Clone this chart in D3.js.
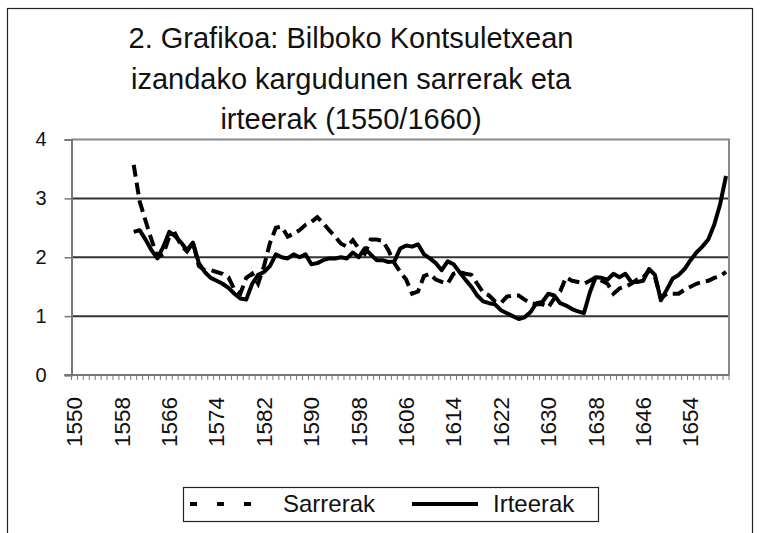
<!DOCTYPE html>
<html>
<head>
<meta charset="utf-8">
<script src="https://cdn.jsdelivr.net/npm/d3@7"></script>
<style>
  body { margin: 0; background: #fff; }
  text { font-family: "Liberation Sans", Arial, sans-serif; fill: #111; }
</style>
</head>
<body>
<svg width="762" height="533"></svg>
<script>
// years on the category axis
var years = d3.range(1550, 1661);
var tickYears = d3.range(1550, 1660, 8);
var yTicks = [0, 1, 2, 3, 4];
var titleLines = ['2. Grafikoa: Bilboko Kontsuletxean', 'izandako kargudunen sarrerak eta', 'irteerak (1550/1660)'];
var seriesNames = ['Sarrerak', 'Irteerak'];

// both series start in 1560
var firstYear = 1560;
var sarrerak = [
  3.57, 2.95, 2.62, 2.30, 2.00, 2.05, 2.35, 2.40, 2.20, 2.10,
  2.25, 1.85, 1.78, 1.78, 1.75, 1.72, 1.66, 1.45, 1.38, 1.65,
  1.72, 1.55, 1.85, 2.24, 2.50, 2.52, 2.35, 2.40, 2.46, 2.55,
  2.60, 2.68, 2.58, 2.46, 2.35, 2.23, 2.18, 2.29, 2.15, 2.06,
  2.30, 2.30, 2.28, 2.12, 1.90, 1.75, 1.62, 1.38, 1.42, 1.68,
  1.72, 1.62, 1.58, 1.55, 1.72, 1.75, 1.72, 1.70, 1.55, 1.40,
  1.35, 1.25, 1.22, 1.33, 1.35, 1.35, 1.28, 1.22, 1.20, 1.20,
  1.15, 1.30, 1.42, 1.66, 1.60, 1.58, 1.55, 1.60, 1.66, 1.60,
  1.55, 1.38, 1.47, 1.50, 1.55, 1.62, 1.65, 1.78, 1.66, 1.30,
  1.38, 1.38, 1.38, 1.45, 1.50, 1.55, 1.58, 1.60, 1.65, 1.68,
  1.75
];
var irteerak = [
  2.43, 2.46, 2.30, 2.12, 1.98, 2.18, 2.43, 2.36, 2.25, 2.12,
  2.25, 1.90, 1.75, 1.65, 1.60, 1.55, 1.48, 1.38, 1.30, 1.28,
  1.55, 1.70, 1.75, 1.85, 2.05, 2.00, 1.98, 2.05, 2.00, 2.05,
  1.88, 1.90, 1.95, 1.98, 1.98, 2.00, 1.98, 2.08, 2.00, 2.15,
  2.05, 1.95, 1.95, 1.92, 1.93, 2.15, 2.20, 2.18, 2.22, 2.05,
  1.98, 1.90, 1.78, 1.93, 1.88, 1.75, 1.62, 1.50, 1.35, 1.25,
  1.22, 1.20, 1.10, 1.05, 1.00, 0.95, 0.98, 1.07, 1.22, 1.24,
  1.38, 1.35, 1.22, 1.18, 1.12, 1.08, 1.05, 1.40, 1.66, 1.65,
  1.62, 1.72, 1.66, 1.72, 1.58, 1.58, 1.60, 1.80, 1.70, 1.27,
  1.45, 1.64, 1.70, 1.80, 1.95, 2.08, 2.18, 2.30, 2.55, 2.90,
  3.38
];

var svg = d3.select('svg');

// plot area
var plot = {l: 71.5, r: 729, t: 139.5, b: 375};

// outer chart border
svg.append('rect')
  .attr('x', 7.5).attr('y', 8.5)
  .attr('width', 745).attr('height', 540)
  .attr('fill', 'none')
  .attr('stroke', '#222')
  .attr('stroke-width', 1.2);

// title
svg.append('g').selectAll('text')
  .data(titleLines)
  .enter().append('text')
  .attr('x', 351)
  .attr('y', function(d, i) { return 48 + i * 40.5; })
  .attr('text-anchor', 'middle')
  .style('font-size', '29px')
  .text(function(d) { return d; });

var xScale = d3.scaleBand()
  .domain(years)
  .range([plot.l, plot.r]);

var yScale = d3.scaleLinear()
  .domain([0, 4])
  .range([plot.b, plot.t]);

// gridlines
svg.append('g').selectAll('line')
  .data([1, 2, 3])
  .enter().append('line')
  .attr('x1', plot.l).attr('x2', plot.r)
  .attr('y1', function(d) { return yScale(d); })
  .attr('y2', function(d) { return yScale(d); })
  .attr('stroke', '#333')
  .attr('stroke-width', 2);

// plot area border (top + right)
svg.append('path')
  .attr('d', 'M' + plot.l + ',' + plot.t + 'H' + plot.r + 'V' + plot.b)
  .attr('fill', 'none')
  .attr('stroke', '#888')
  .attr('stroke-width', 2);

// y axis
var yAxisG = svg.append('g')
  .attr('transform', 'translate(' + plot.l + ',0)')
  .call(d3.axisLeft(yScale).tickValues(yTicks).tickSize(7).tickPadding(18).tickFormat(d3.format('d')));
yAxisG.select('.domain').attr('stroke', '#777').attr('stroke-width', 2);
yAxisG.selectAll('.tick line').attr('stroke', '#777').attr('stroke-width', 1.5);
yAxisG.selectAll('.tick text')
  .style('font-size', '20px')
  .style('font-family', '"Liberation Sans", Arial, sans-serif')
  .attr('fill', '#111');

// x axis: a tick at every category boundary
var xAxisG = svg.append('g')
  .attr('transform', 'translate(0,' + plot.b + ')');
xAxisG.append('line')
  .attr('x1', plot.l - 7).attr('x2', plot.r)
  .attr('stroke', '#777')
  .attr('stroke-width', 2);
xAxisG.selectAll('.xtick')
  .data(years.concat([1661]))
  .enter().append('line')
  .attr('class', 'xtick')
  .attr('x1', function(d) { return d === 1661 ? plot.r : xScale(d); })
  .attr('x2', function(d) { return d === 1661 ? plot.r : xScale(d); })
  .attr('y1', 0).attr('y2', 5)
  .attr('stroke', '#777')
  .attr('stroke-width', 1);

xAxisG.selectAll('.xlabel')
  .data(tickYears)
  .enter().append('text')
  .attr('class', 'xlabel')
  .attr('transform', function(d) {
    var cx = xScale(d) + xScale.bandwidth() / 2;
    return 'translate(' + [cx, 22] + ') rotate(-90)';
  })
  .attr('dy', '0.35em')
  .attr('text-anchor', 'end')
  .style('font-size', '22.5px')
  .text(function(d) { return d; });

// lines
var line = d3.line()
  .x(function(d, i) { return xScale(firstYear + i) + xScale.bandwidth() / 2; })
  .y(function(d) { return yScale(d); });

svg.append('path')
  .datum(sarrerak)
  .attr('d', line)
  .attr('fill', 'none')
  .attr('stroke', '#000')
  .attr('stroke-width', 4)
  .attr('stroke-dasharray', '12,6');

svg.append('path')
  .datum(irteerak)
  .attr('d', line)
  .attr('fill', 'none')
  .attr('stroke', '#000')
  .attr('stroke-width', 4)
  .attr('stroke-linejoin', 'round');

// legend
var legend = svg.append('g');
legend.append('rect')
  .attr('x', 183.5).attr('y', 487.5)
  .attr('width', 415).attr('height', 34)
  .attr('fill', '#fff')
  .attr('stroke', '#222')
  .attr('stroke-width', 1.2);
legend.append('line')
  .attr('x1', 190).attr('x2', 262).attr('y1', 504).attr('y2', 504)
  .attr('stroke', '#000').attr('stroke-width', 4)
  .attr('stroke-dasharray', '7,20');
legend.append('line')
  .attr('x1', 412).attr('x2', 478).attr('y1', 504).attr('y2', 504)
  .attr('stroke', '#000').attr('stroke-width', 4);
legend.selectAll('text')
  .data(seriesNames)
  .enter().append('text')
  .attr('x', function(d, i) { return i === 0 ? 283 : 493; })
  .attr('y', 512)
  .style('font-size', '24px')
  .text(function(d) { return d; });
</script>
</body>
</html>
